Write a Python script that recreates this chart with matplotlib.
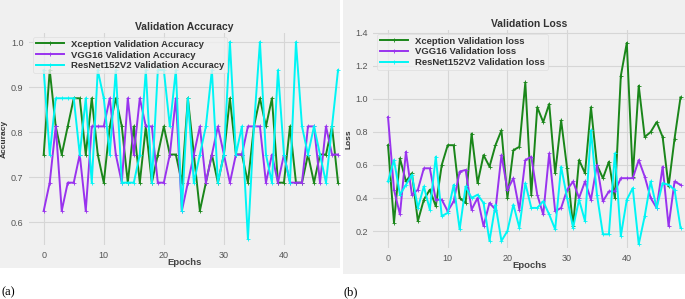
import numpy as np
import matplotlib
matplotlib.use("Agg")
import matplotlib.pyplot as plt
from matplotlib.patches import Rectangle

# ---- data ----
epochs = list(range(50))

xception_acc = [0.75, 0.9375, 0.8125, 0.75, 0.8125, 0.875, 0.875, 0.75, 0.875, 0.75,
                0.6875, 0.8125, 0.875, 0.8125, 0.6875, 0.8125, 0.6875, 0.8125, 0.6875, 0.75,
                0.8125, 0.75, 0.75, 0.6875, 0.875, 0.75, 0.625, 0.6875, 0.75, 0.6875,
                0.75, 0.875, 0.75, 0.75, 0.6875, 0.8125, 0.875, 0.8125, 0.875, 0.6875,
                0.6875, 0.8125, 0.6875, 0.6875, 0.75, 0.6875, 0.75, 0.75, 0.8125, 0.6875]
vgg16_acc = [0.625, 0.6875, 0.8125, 0.625, 0.6875, 0.6875, 0.75, 0.625, 0.8125, 0.8125,
             0.8125, 0.875, 0.75, 0.6875, 0.875, 0.75, 0.875, 0.8125, 0.8125, 0.6875,
             0.6875, 0.75, 0.875, 0.625, 0.6875, 0.75, 0.8125, 0.6875, 0.75, 0.8125,
             0.75, 0.6875, 0.75, 0.75, 0.8125, 0.8125, 0.8125, 0.6875, 0.75, 0.6875,
             0.75, 0.6875, 0.6875, 0.6875, 0.8125, 0.8125, 0.6875, 0.8125, 0.75, 0.75]
resnet_acc = [0.9375, 0.75, 0.875, 0.875, 0.875, 0.875, 0.75, 0.875, 0.6875, 0.9375,
              0.875, 0.75, 0.9375, 0.6875, 0.6875, 0.6875, 0.75, 0.9375, 0.6875, 0.9375,
              0.9375, 0.8125, 0.9375, 0.625, 0.875, 0.6875, 0.75, 0.8125, 0.9375, 0.6875,
              0.75, 1.0, 0.75, 0.8125, 0.5625, 0.8125, 1.0, 0.75, 0.6875, 0.9375,
              0.75, 0.6875, 1.0, 0.8125, 0.75, 0.8125, 0.75, 0.6875, 0.8125, 0.9375]

xception_loss = [0.72, 0.25, 0.64, 0.50, 0.55, 0.26, 0.39, 0.45, 0.35, 0.60,
                 0.72, 0.72, 0.40, 0.37, 0.79, 0.49, 0.66, 0.59, 0.72, 0.81,
                 0.40, 0.69, 0.71, 1.10, 0.42, 0.95, 0.86, 0.97, 0.55, 0.87,
                 0.58, 0.23, 0.63, 0.55, 0.95, 0.60, 0.52, 0.62, 0.40, 1.14,
                 1.34, 0.53, 1.08, 0.77, 0.80, 0.86, 0.77, 0.47, 0.76, 1.01]
vgg16_loss = [0.89, 0.45, 0.30, 0.68, 0.42, 0.45, 0.58, 0.58, 0.39, 0.39,
              0.32, 0.38, 0.56, 0.57, 0.33, 0.40, 0.23, 0.37, 0.33, 0.66,
              0.45, 0.52, 0.33, 0.63, 0.65, 0.42, 0.30, 0.67, 0.32, 0.34,
              0.45, 0.50, 0.40, 0.50, 0.39, 0.60, 0.38, 0.44, 0.44, 0.52,
              0.52, 0.52, 0.63, 0.53, 0.40, 0.34, 0.59, 0.23, 0.50, 0.48]
resnet_loss = [0.50, 0.63, 0.42, 0.48, 0.54, 0.34, 0.47, 0.33, 0.65, 0.29,
               0.31, 0.48, 0.21, 0.47, 0.40, 0.42, 0.37, 0.14, 0.36, 0.14,
               0.20, 0.36, 0.22, 0.49, 0.34, 0.34, 0.38, 0.30, 0.21, 0.59,
               0.40, 0.22, 0.39, 0.26, 0.81, 0.42, 0.18, 0.18, 0.67, 0.17,
               0.39, 0.46, 0.12, 0.29, 0.50, 0.34, 0.49, 0.48, 0.45, 0.22]

acc_ticks = [0.6, 0.7, 0.8, 0.9, 1.0]
loss_ticks = [0.2, 0.4, 0.6, 0.8, 1.0, 1.2, 1.4]
epoch_ticks = [0, 10, 20, 30, 40]

# ---- styling ----
W, H = 685, 299
BG = "#f0f0f0"
GRID = "#d6d6d6"
C_X = "#1a861a"
C_V = "#9933ee"
C_R = "#00f5f5"
plt.rcParams["font.family"] = ["Liberation Sans", "DejaVu Sans"]

fig = plt.figure(figsize=(W / 100, H / 100), dpi=100, facecolor="white")

# grey panel backgrounds (two cropped screenshots side by side)
fig.patches.append(Rectangle((0, 1 - 268 / H), 340 / W, 268 / H, transform=fig.transFigure,
                             facecolor=BG, edgecolor="none", zorder=-5))
fig.patches.append(Rectangle((343 / W, 1 - 274 / H), 342 / W, 274 / H, transform=fig.transFigure,
                             facecolor=BG, edgecolor="none", zorder=-5))


def px_axes(x0, y0, x1, y1):
    return fig.add_axes([x0 / W, 1 - y1 / H, (x1 - x0) / W, (y1 - y0) / H])


def style(ax, title, ylabel):
    ax.set_facecolor(BG)
    for s in ax.spines.values():
        s.set_visible(False)
    ax.grid(True, color=GRID, linewidth=0.8)
    ax.set_axisbelow(True)
    ax.tick_params(length=0, labelsize=6.5, colors="#555555", pad=4)
    ax.set_title(title, fontsize=7.5, fontweight="bold", color="#333333", pad=2)
    ax.set_xlabel("Epochs", fontsize=6.8, fontweight="bold", color="#444444", labelpad=-1)
    ax.set_ylabel(ylabel, fontsize=6, fontweight="bold", color="#333333", labelpad=2)


def series(ax, ys, color, label):
    ax.plot(epochs, ys, color=color, linewidth=1.4, marker="+", markersize=3,
            markeredgewidth=0.6, label=label)


# (a) accuracy
ax1 = px_axes(29, 33, 340, 245)
series(ax1, xception_acc, C_X, "Xception Validation Accuracy")
series(ax1, vgg16_acc, C_V, "VGG16 Validation Accuracy")
series(ax1, resnet_acc, C_R, "ResNet152V2 Validation Accuracy")
ax1.set_xlim(-2.45, 49.33)
ax1.set_ylim(0.549, 1.02)
ax1.set_yticks(acc_ticks)
ax1.set_yticklabels([f"{t:.1f}" for t in acc_ticks])
ax1.set_xticks(epoch_ticks)
style(ax1, "Validation Accuracy", "Accuracy")

# (b) loss
ax2 = px_axes(373.4, 30, 685, 248)
series(ax2, xception_loss, C_X, "Xception Validation loss")
series(ax2, vgg16_loss, C_V, "VGG16 Validation loss")
series(ax2, resnet_loss, C_R, "ResNet152V2 Validation loss")
ax2.set_xlim(-2.45, 49.75)
ax2.set_ylim(0.097, 1.418)
ax2.set_yticks(loss_ticks)
ax2.set_yticklabels([f"{t:.1f}" for t in loss_ticks])
ax2.set_xticks(epoch_ticks)
style(ax2, "Validation Loss", "Loss")

for ax in (ax1, ax2):
    leg = ax.legend(loc="upper left", fontsize=6.8, frameon=True, borderaxespad=0.4,
                    handlelength=3.0, labelspacing=0.2, borderpad=0.3, handletextpad=0.7)
    leg.get_frame().set_facecolor(BG)
    leg.get_frame().set_edgecolor("#dddddd")
    leg.get_frame().set_linewidth(0.6)
    for t in leg.get_texts():
        t.set_fontweight("bold")
        t.set_color("#333333")

fig.text(2 / W, 1 - 292 / H, "(a)", fontsize=9, family="Liberation Serif", va="center", ha="left")
fig.text(343 / W, 1 - 292 / H, "(b)", fontsize=9, family="Liberation Serif", va="center", ha="left")

fig.savefig("out.png", dpi=100, facecolor="white")
